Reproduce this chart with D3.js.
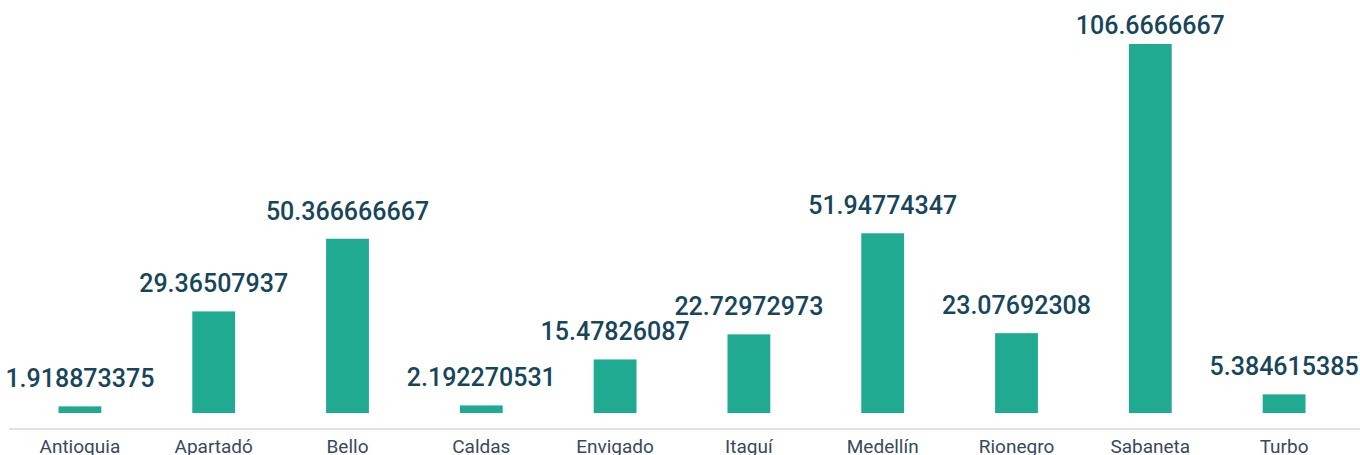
<!DOCTYPE html>
<html><head><meta charset="utf-8">
<script src="https://cdn.jsdelivr.net/npm/d3@7"></script>
<style>body{margin:0;background:#fff;}svg{display:block;font-family:Roboto,sans-serif;}</style>
</head><body>
<svg id="chart" width="1360" height="455"></svg>
<script>
const categories = ["Antioquia","Apartadó","Bello","Caldas","Envigado","Itaguí","Medellín","Rionegro","Sabaneta","Turbo"];
const values = [1.918873375,29.36507937,50.366666667,2.192270531,15.47826087,22.72972973,51.94774347,23.07692308,106.6666667,5.384615385];
const valueLabels = ["1.918873375","29.36507937","50.366666667","2.192270531","15.47826087","22.72972973","51.94774347","23.07692308","106.6666667","5.384615385"];

const svg = d3.select("#chart");
const x = d3.scaleBand().domain(categories).range([13, 1351]).paddingInner(0.68).paddingOuter(0.34);
const y = d3.scaleLinear().domain([0, 106.6666667]).range([413, 44]);

svg.append("line").attr("x1", 9).attr("x2", 1360).attr("y1", 429).attr("y2", 429)
  .attr("stroke", "#d9d9d9").attr("stroke-width", 1.5);

svg.selectAll("rect.bar").data(values).join("rect").attr("class","bar")
  .attr("x", (d,i)=>x(categories[i])).attr("width", x.bandwidth())
  .attr("y", d=>y(d)).attr("height", d=>y(0)-y(d)).attr("fill", "#1faa91");

svg.selectAll("text.val").data(values).join("text").attr("class","val")
  .attr("x", (d,i)=>x(categories[i]) + x.bandwidth()/2)
  .attr("y", d=>Math.max(34, y(d) - 19))
  .attr("text-anchor","middle").attr("font-size", 25).attr("font-weight", 500)
  .attr("fill", "#17465a").text((d,i)=>valueLabels[i]);

svg.selectAll("text.cat").data(categories).join("text").attr("class","cat")
  .attr("x", d=>x(d) + x.bandwidth()/2).attr("y", 453)
  .attr("text-anchor","middle").attr("font-size", 19).attr("fill", "#364a5c").text(d=>d);
</script>
</body></html>
